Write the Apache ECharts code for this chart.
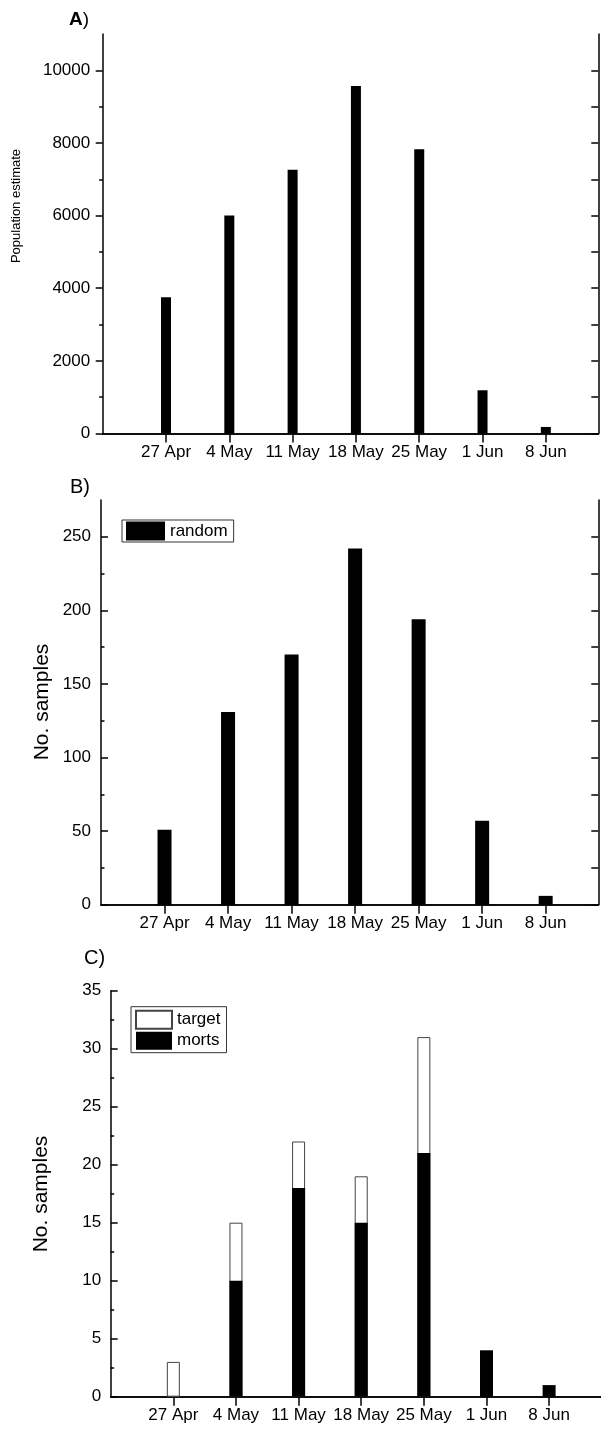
<!DOCTYPE html>
<html><head><meta charset="utf-8">
<script src="https://cdn.jsdelivr.net/npm/echarts@6/dist/echarts.min.js"></script>
<style>html,body{margin:0;padding:0;background:#fff}#c{width:601px;height:1431px}</style>
</head><body><div id="c"></div>
<script>
// ---- data ----
const dateLabels = ['27 Apr', '4 May', '11 May', '18 May', '25 May', '1 Jun', '8 Jun'];
const dayOffsets = [7, 14, 21, 28, 35, 42, 49]; // days since 20 Apr
const popEstimate = [3750, 6000, 7260, 9570, 7830, 1190, 180];
const randomSamples = [51, 131, 170, 242, 194, 57, 6];
const mortsSamples = [null, 10, 18, 15, 21, 4, 1];
// top of the white "target" segment (morts + target)
const targetTop = [3, 15, 22, 19, 31, null, null];
const yTicksA = [0, 2000, 4000, 6000, 8000, 10000];
const yMinorA = [1000, 3000, 5000, 7000, 9000];
const yTicksB = [0, 50, 100, 150, 200, 250];
const yMinorB = [25, 75, 125, 175, 225];
const yTicksC = [0, 5, 10, 15, 20, 25, 30, 35];
const yMinorC = [2.5, 7.5, 12.5, 17.5, 22.5, 27.5, 32.5];

// ---- styling helpers ----
const FONT = 'Liberation Sans';
const xMax = 54.8;
const lineStyle = { color: '#000', width: 1.5 };
const pairs = arr => dayOffsets.map((d, i) => [d, arr[i] == null ? '-' : arr[i]]);
const dateFmt = v => { const i = dayOffsets.indexOf(v); return i >= 0 ? dateLabels[i] : ''; };

function xAxes(g, topTick) {
  return [
    { type: 'value', gridIndex: g, position: 'bottom', min: 0, max: xMax,
      axisLine: { show: true, lineStyle }, splitLine: { show: false },
      axisTick: { show: true, inside: false, length: 9, customValues: dayOffsets, lineStyle },
      axisLabel: { show: true, customValues: dayOffsets, formatter: dateFmt, margin: 10,
                   fontFamily: FONT, fontSize: 17, color: '#000' } },
    { type: 'value', gridIndex: g, position: 'top', min: 0, max: xMax,
      axisLine: { show: true, lineStyle }, splitLine: { show: false },
      axisTick: { show: true, inside: true, length: topTick, customValues: dayOffsets, lineStyle },
      axisLabel: { show: false } }
  ];
}
function yAxes(g, max, majors, minors, inside, margin, rightSide) {
  return [
    { type: 'value', gridIndex: g, position: 'left', min: 0, max: max,
      axisLine: { show: true, lineStyle }, splitLine: { show: false },
      axisTick: { show: true, inside: inside, length: 7, customValues: majors, lineStyle },
      axisLabel: { show: true, customValues: majors, formatter: v => String(v), margin: margin,
                   fontFamily: FONT, fontSize: 17, color: '#000' } },
    { type: 'value', gridIndex: g, position: 'left', min: 0, max: max,
      axisLine: { show: false }, splitLine: { show: false },
      axisTick: { show: true, inside: inside, length: 3.5, customValues: minors, lineStyle },
      axisLabel: { show: false } },
    { type: 'value', gridIndex: g, position: 'right', min: 0, max: max,
      axisLine: { show: rightSide, lineStyle }, splitLine: { show: false },
      axisTick: { show: rightSide, inside: true, length: 7, customValues: majors.concat(minors), lineStyle },
      axisLabel: { show: false } }
  ];
}

const chart = echarts.init(document.getElementById('c'), null, { renderer: 'canvas' });
chart.setOption({
  animation: false,
  backgroundColor: '#fff',
  textStyle: { fontFamily: FONT },
  grid: [
    { left: 102.7, top: 34, width: 495.6, height: 399.5 },
    { left: 101, top: 500, width: 497.3, height: 404.7 },
    { left: 110.7, top: 990.7, width: 496.3, height: 406 }
  ],
  xAxis: [].concat(xAxes(0, 8), xAxes(1, 8), xAxes(2, 4)),
  yAxis: [].concat(
    yAxes(0, 11000, yTicksA, yMinorA, false, 12.5, true),
    yAxes(1, 275, yTicksB, yMinorB, true, 10, true),
    yAxes(2, 35, yTicksC, yMinorC, true, 9.5, false)
  ),
  title: [
    { text: '{b|A})', left: 64, top: 5, textStyle: { fontFamily: FONT, fontSize: 19, fontWeight: 'normal', color: '#000',
        rich: { b: { fontFamily: FONT, fontSize: 19, fontWeight: 'bold', color: '#000' } } } },
    { text: 'B)', left: 65, top: 472, textStyle: { fontFamily: FONT, fontSize: 20, fontWeight: 'normal', color: '#000' } },
    { text: 'C)', left: 79, top: 943, textStyle: { fontFamily: FONT, fontSize: 20, fontWeight: 'normal', color: '#000' } }
  ],
  graphic: [
    { type: 'text', x: 16, y: 206, rotation: Math.PI / 2,
      style: { text: 'Population estimate', font: '13px ' + FONT, fill: '#000', align: 'center', verticalAlign: 'middle' } },
    { type: 'text', x: 42, y: 702, rotation: Math.PI / 2,
      style: { text: 'No. samples', font: '21px ' + FONT, fill: '#000', align: 'center', verticalAlign: 'middle' } },
    { type: 'text', x: 41, y: 1194, rotation: Math.PI / 2,
      style: { text: 'No. samples', font: '21px ' + FONT, fill: '#000', align: 'center', verticalAlign: 'middle' } }
  ],
  legend: [
    { data: ['random'], left: 122, top: 520, orient: 'horizontal', icon: 'rect',
      itemWidth: 39, itemHeight: 19, padding: [1.5, 6, 1.5, 4],
      borderColor: '#333', borderWidth: 1, selectedMode: false,
      textStyle: { fontFamily: FONT, fontSize: 17, color: '#000', lineHeight: 19 } },
    { data: ['target', 'morts'], left: 131, top: 1006.7, orient: 'vertical', icon: 'rect',
      itemWidth: 36, itemHeight: 18, itemGap: 2, padding: [3, 6, 3, 4],
      borderColor: '#333', borderWidth: 1, selectedMode: false,
      textStyle: { fontFamily: FONT, fontSize: 17, color: '#000', lineHeight: 18 } }
  ],
  series: [
    { name: 'population', type: 'bar', xAxisIndex: 0, yAxisIndex: 0, barWidth: 10,
      itemStyle: { color: '#000' }, data: pairs(popEstimate) },
    { name: 'random', type: 'bar', xAxisIndex: 2, yAxisIndex: 3, barWidth: 14,
      itemStyle: { color: '#000' }, data: pairs(randomSamples) },
    { name: 'target', type: 'bar', xAxisIndex: 4, yAxisIndex: 6, barWidth: 13, barGap: '-100%',
      itemStyle: { color: '#fff', borderColor: '#444', borderWidth: 1 }, data: pairs(targetTop) },
    { name: 'morts', type: 'bar', xAxisIndex: 4, yAxisIndex: 6, barWidth: 13, barGap: '-100%',
      itemStyle: { color: '#000' }, data: pairs(mortsSamples) }
  ]
});
</script>
</body></html>
